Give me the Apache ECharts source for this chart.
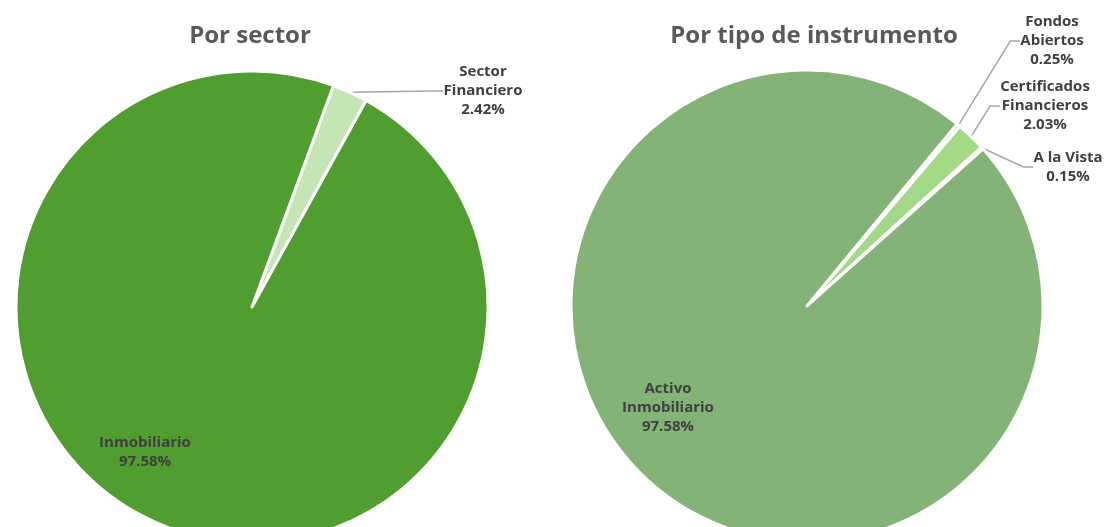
<!DOCTYPE html>
<html>
<head>
<meta charset="utf-8">
<script src="https://cdn.jsdelivr.net/npm/echarts@6/dist/echarts.min.js"></script>
<style>
html,body{margin:0;padding:0;background:#fff;}
#chart{width:1108px;height:527px;}
</style>
</head>
<body>
<div id="chart"></div>
<script>
// Data
const sectorNames = ['Sector\nFinanciero', 'Inmobiliario'];
const sectorValues = [2.42, 97.58];
const instrNames = ['Fondos\nAbiertos', 'Certificados\nFinancieros', 'A la Vista', 'Activo\nInmobiliario'];
const instrValues = [0.25, 2.03, 0.15, 97.58];
const titles = ['Por sector', 'Por tipo de instrumento'];

// Styles
const sectorColors = ['#c5e5b5', '#519e30'];
const instrColors = ['#b9dca6', '#a2d886', '#6fa35f', '#84b377'];
const labelFont = { fontFamily: 'Open Sans', fontWeight: 'bold', fontSize: 15, color: '#404040', lineHeight: 19, align: 'center' };

// label anchor positions (px), per series / data index
const labelPos = [
  [[483, 91], [145, 452]],
  [[1052, 41], [1045, 106], [1068, 167], [668, 408]]
];

function buildData(names, values, colors, insideIdx) {
  return names.map((n, i) => ({
    name: n,
    value: values[i],
    itemStyle: { color: colors[i] },
    label: i === insideIdx ? { position: 'inside' } : { position: 'outside' },
    labelLine: { show: i !== insideIdx }
  }));
}

const chart = echarts.init(document.getElementById('chart'), null, { renderer: 'canvas' });

const common = {
  type: 'pie',
  radius: 236,
  clockwise: true,
  avoidLabelOverlap: false,
  silent: true,
  animation: false,
  itemStyle: { borderColor: '#ffffff', borderWidth: 3 },
  label: Object.assign({ show: true, formatter: p => p.name + '\n' + p.value.toFixed(2) + '%' }, labelFont),
  labelLine: { show: true, length: 10, length2: 10, lineStyle: { color: '#a6a6a6', width: 1.5 } },
  labelLayout: function (params) {
    const pos = labelPos[params.seriesIndex][params.dataIndex];
    return { x: pos[0], y: pos[1], align: 'center', verticalAlign: 'middle' };
  }
};

const titleStyle = { fontFamily: 'Open Sans', fontWeight: 'bold', fontSize: 24, color: '#595959' };

chart.setOption({
  backgroundColor: '#ffffff',
  title: [
    { text: titles[0], left: 245, top: 31, textAlign: 'center', textVerticalAlign: 'middle', textStyle: titleStyle },
    { text: titles[1], left: 809, top: 31, textAlign: 'center', textVerticalAlign: 'middle', textStyle: titleStyle }
  ],
  series: [
    Object.assign({}, common, {
      center: [252, 307],
      startAngle: 69.8,
      data: buildData(sectorNames, sectorValues, sectorColors, 1)
    }),
    Object.assign({}, common, {
      center: [807, 306],
      startAngle: 50.5,
      data: buildData(instrNames, instrValues, instrColors, 3)
    })
  ]
});
</script>
</body>
</html>
